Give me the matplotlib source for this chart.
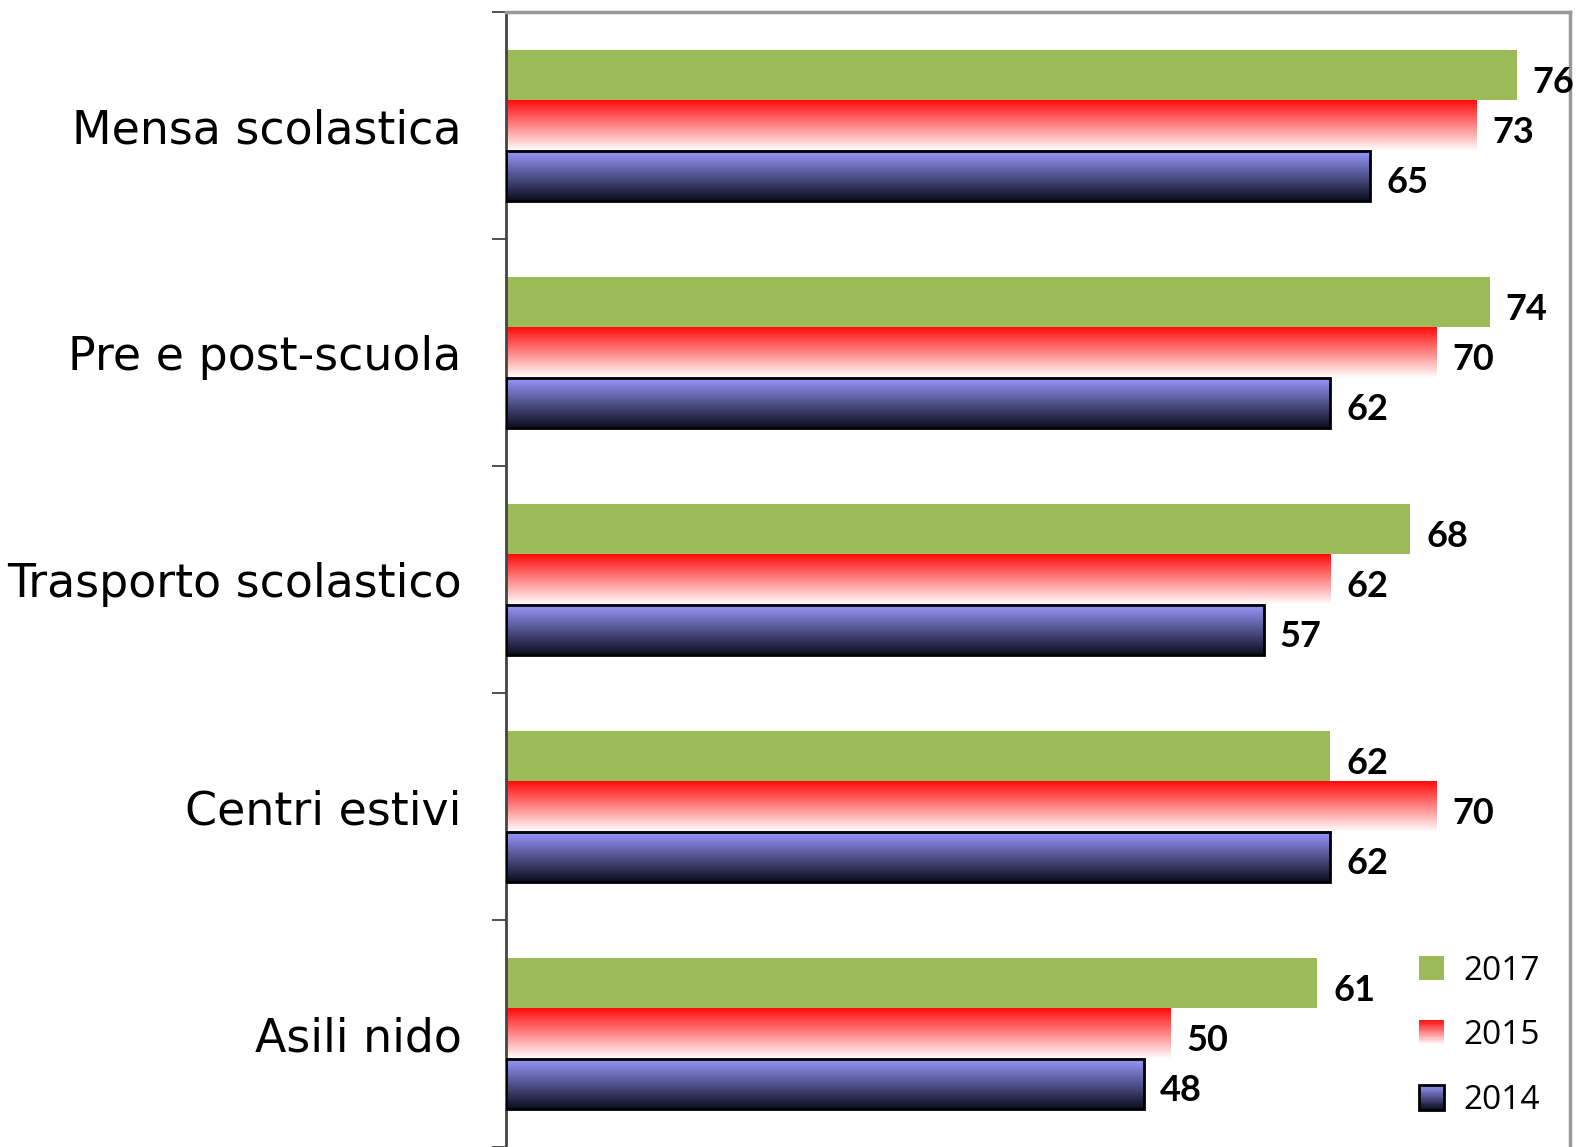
import numpy as np
import matplotlib
matplotlib.use("Agg")
import matplotlib.pyplot as plt
from matplotlib.patches import Rectangle
from matplotlib.legend_handler import HandlerBase

# Servizi e valori per anno
categorie = ["Mensa scolastica", "Pre e post-scuola", "Trasporto scolastico",
             "Centri estivi", "Asili nido"]
val_2017 = [76, 74, 68, 62, 61]
val_2015 = [73, 70, 62, 70, 50]
val_2014 = [65, 62, 57, 62, 48]
anni = ["2017", "2015", "2014"]

verde = "#9bbb59"
rosso_top, rosso_bot = np.array([1.0, 0.05, 0.05]), np.array([1.0, 1.0, 1.0])
blu_top, blu_bot = np.array([0.60, 0.60, 1.0]), np.array([0.05, 0.05, 0.12])


def gradiente(top, bot, n=64):
    t = np.linspace(0, 1, n)[:, None]
    return (top[None, :] * (1 - t) + bot[None, :] * t)[:, None, :]


class HandlerGradiente(HandlerBase):
    def __init__(self, top, bot, edge=None):
        super().__init__()
        self.top, self.bot, self.edge = top, bot, edge

    def create_artists(self, legend, orig_handle, xdescent, ydescent,
                       width, height, fontsize, trans):
        side = height * 1.05
        x0 = -xdescent + (width - side) / 2
        y0 = -ydescent + (height - side) / 2
        n = 20
        arts = []
        for i in range(n):
            t = (i + 0.5) / n
            c = self.top * (1 - t) + self.bot * t
            arts.append(Rectangle((x0, y0 + side * (1 - (i + 1) / n)), side, side / n + 0.3,
                                  facecolor=c, edgecolor="none", transform=trans))
        if self.edge:
            arts.append(Rectangle((x0, y0), side, side, facecolor="none",
                                  edgecolor=self.edge, lw=2, transform=trans))
        return arts


class HandlerQuadrato(HandlerBase):
    def create_artists(self, legend, orig_handle, xdescent, ydescent,
                       width, height, fontsize, trans):
        side = height * 1.05
        x0 = -xdescent + (width - side) / 2
        y0 = -ydescent + (height - side) / 2
        return [Rectangle((x0, y0), side, side, facecolor=verde,
                          edgecolor="none", transform=trans)]


fig = plt.figure(figsize=(15.76, 11.47), dpi=100)
ax = fig.add_axes([0.321, 0.0, 0.675, 0.9895])

y = np.arange(len(categorie))
h = 0.221

ax.barh(y - h, val_2017, height=h, color=verde, edgecolor="none", zorder=2)
for yi, v in zip(y, val_2015):
    ax.imshow(gradiente(rosso_top, rosso_bot), extent=(0, v, yi + h / 2, yi - h / 2),
              origin="upper", aspect="auto", interpolation="bilinear", zorder=2)
for yi, v in zip(y + h, val_2014):
    ax.imshow(gradiente(blu_top, blu_bot), extent=(0, v, yi + h / 2, yi - h / 2),
              origin="upper", aspect="auto", interpolation="bilinear", zorder=2)
ax.barh(y + h, val_2014, height=h, fill=False, edgecolor="black", lw=2, zorder=3)

lab_font = dict(fontsize=26, fontweight="bold", family=["Lato", "DejaVu Sans"])
for serie, off in ((val_2017, -h), (val_2015, 0), (val_2014, h)):
    for yi, v in zip(y + off, serie):
        ax.text(v + 1.2, yi + 0.03, str(v), va="center", ha="left", **lab_font)

ax.set_xlim(0, 80)
ax.set_ylim(len(categorie) - 0.5, -0.5)
ax.set_xticks([])
ax.set_yticks(np.arange(-0.5, len(categorie)), labels=[""] * (len(categorie) + 1))
ax.tick_params(axis="y", which="major", length=10, width=1.2, color="#333333")
ax.set_yticks(y, labels=categorie, minor=True)
ax.tick_params(axis="y", which="minor", length=0, pad=32, labelsize=33)
for t in ax.get_yticklabels(minor=True):
    t.set_family(["DejaVu Sans"])

ax.spines["bottom"].set_visible(False)
ax.spines["left"].set_color("#444444")
ax.spines["left"].set_linewidth(2)
for s in ("top", "right"):
    ax.spines[s].set_color("#999999")
    ax.spines[s].set_linewidth(2.5)

handles = [Rectangle((0, 0), 1, 1) for _ in anni]
leg = ax.legend(handles, anni, loc="lower right", bbox_to_anchor=(1.0, 0.0),
                frameon=False, labelspacing=0.95, handlelength=0.9,
                handletextpad=0.5, prop={"family": ["Open Sans", "DejaVu Sans"], "size": 24},
                handler_map={handles[0]: HandlerQuadrato(),
                             handles[1]: HandlerGradiente(rosso_top, rosso_bot),
                             handles[2]: HandlerGradiente(blu_top, blu_bot, edge="black")})

fig.savefig("out.png", dpi=100)
